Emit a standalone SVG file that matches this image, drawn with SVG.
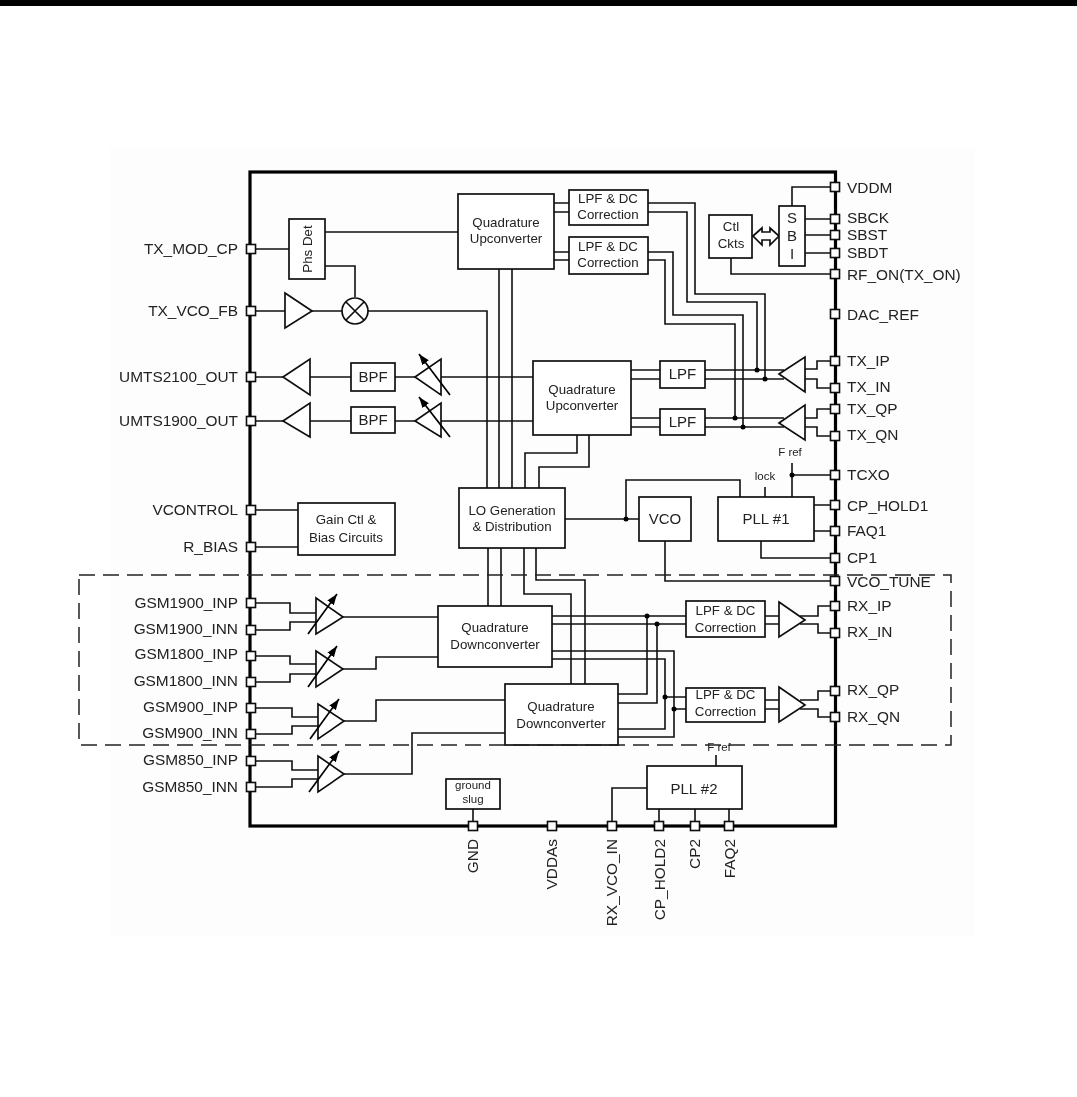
<svg xmlns="http://www.w3.org/2000/svg" width="1077" height="1097" viewBox="0 0 1077 1097">
<style>
text{font-family:"Liberation Sans",Arial,sans-serif;fill:#222;font-size:13.3px}
.c{text-anchor:middle}
.l{font-size:15.4px;text-anchor:end}
.r{font-size:15.4px}
.b{font-size:15.4px;text-anchor:end}
.m{font-size:15px;text-anchor:middle}
.s{font-size:11.5px;text-anchor:middle}
.box,.amp{fill:#fff;stroke:#111;stroke-width:1.7}
.port{fill:#fff;stroke:#111;stroke-width:1.6}
#connectors path{fill:none;stroke:#111;stroke-width:1.6}
.dot{fill:#000;stroke:none}
.var{stroke:#000;stroke-width:1.7;fill:none;marker-end:url(#ah)}
</style>
<defs>
<marker id="ah" markerUnits="userSpaceOnUse" markerWidth="13" markerHeight="10" refX="11" refY="4" orient="auto"><path d="M0 0L11 4L0 8Z" fill="#000"/></marker>
<filter id="soft" x="0" y="0" width="100%" height="100%" filterUnits="userSpaceOnUse"><feGaussianBlur stdDeviation="0.4"/></filter>
<rect id="p" x="-4.5" y="-4.5" width="9" height="9" class="port"/>
</defs>
<rect width="1077" height="1097" fill="#fff"/>
<rect x="110" y="148" width="865" height="789" fill="#fdfdfd"/>
<rect width="1077" height="6" fill="#000"/>
<g filter="url(#soft)">
<rect id="chip" x="250" y="172" width="585.500" height="654" fill="none" stroke="#000" stroke-width="3.2"/>
<g id="connectors">
<path d="M251 249H289M325 232H458M325 266H355V297M251 311H285M312 311H342M368 311H487V488"/>
<path d="M499 269V488M512 269V488M525 488V453H577V435M539 488V467H589V435"/>
<path d="M554 203H569M554 212H569M554 252H569M554 260H569"/>
<path d="M648 203H695V294H765V379M648 212H687V302H757V370M648 252H673V315H743V427M648 260H665V324H735V418"/>
<path d="M251 377H283M310 377H351M395 377H415M441 377H533M251 421H283M310 421H351M395 421H415M441 421H533"/>
<path d="M631 370H660M631 379H660M705 370H784M705 379H784M631 418H660M631 427H660M705 418H784M705 427H784"/>
<path d="M805 369H817V361H835M805 379H817V388H835M805 418H817V409H835M805 427H817V436H835"/>
<path d="M792 206V187H835M805 219H835M805 235H835M805 253H835M731 258V274H835"/>
<path d="M251 510H298M251 547H298"/>
<path d="M565 519H639M626 519V480H740V497M765 487V497M792 463V497M792 475H835M814 505H835M814 531H835M761 541V558H835M665 541V581H835"/>
<path d="M488 548V606M501 548V606M524 548V594H571V684M536 548V580H585V684"/>
<path d="M552 616H686M552 624H686M552 651H674V737H618M552 659H665V729H618M618 694H647V616M618 703H657V624M665 697H686M674 709H686"/>
<path d="M765 616H779M765 624H779M765 700H779M765 709H779M800 616H818V606H835M800 624H818V633H835M800 700H818V691H835M800 709H818V717H835"/>
<path d="M251 603H290V613H316M251 630H290V622H316M251 656H290V664H316M251 682H290V674H316M251 708H292V717H318M251 734H292V726H318M251 761H292V770H318M251 787H292V779H318"/>
<path d="M343 617H438M343 669H376V657H438M344 721H376V700H505M344 774H412V733H505"/>
<path d="M473 809V826M659 809V826M695 809V826M729 809V826M647 788H612V826M716 755V766"/>
<circle class="dot" cx="757" cy="370" r="2.500"/><circle class="dot" cx="765" cy="379" r="2.500"/><circle class="dot" cx="735" cy="418" r="2.500"/><circle class="dot" cx="743" cy="427" r="2.500"/><circle class="dot" cx="626" cy="519" r="2.500"/><circle class="dot" cx="792" cy="475" r="2.500"/><circle class="dot" cx="647" cy="616" r="2.500"/><circle class="dot" cx="657" cy="624" r="2.500"/><circle class="dot" cx="665" cy="697" r="2.500"/><circle class="dot" cx="674" cy="709" r="2.500"/>
</g>
<g id="phs-det"><rect class="box" x="289" y="219" width="36" height="60"/><text class="c" transform="translate(312 249) rotate(-90)">Phs Det</text></g>
<g id="tx-fb-amp"><path class="amp" d="M285 293L312 311L285 328Z"/></g>
<g id="mixer"><circle class="box" cx="355" cy="311" r="13"/><path d="M346 302L364 320M364 302L346 320" stroke="#111" stroke-width="1.700"/></g>
<g id="quad-up-1"><rect class="box" x="458" y="194" width="96" height="75"/><text class="c" x="506" y="227">Quadrature</text><text class="c" x="506" y="243">Upconverter</text></g>
<g id="lpf-dc-1"><rect class="box" x="569" y="190" width="79" height="35"/><text class="c" x="608" y="203">LPF &amp; DC</text><text class="c" x="608" y="219">Correction</text></g>
<g id="lpf-dc-2"><rect class="box" x="569" y="237" width="79" height="37"/><text class="c" x="608" y="251">LPF &amp; DC</text><text class="c" x="608" y="267">Correction</text></g>
<g id="ctl-ckts"><rect class="box" x="709" y="215" width="43" height="43"/><text class="c" x="731" y="231">Ctl</text><text class="c" x="731" y="248">Ckts</text></g>
<g id="bus-arrow"><path class="box" d="M753 236L762 228V232H770V228L779 236L770 245V240H762V245Z"/></g>
<g id="sbi"><rect class="box" x="779" y="206" width="26" height="60"/><text class="m" x="792" y="223">S</text><text class="m" x="792" y="241">B</text><text class="m" x="792" y="259">I</text></g>
<g id="pa-2100"><path class="amp" d="M283 377L310 359V395Z"/></g>
<g id="pa-1900"><path class="amp" d="M283 421L310 403V437Z"/></g>
<g id="bpf-1"><rect class="box" x="351" y="363" width="44" height="28"/><text class="m" x="373" y="382">BPF</text></g>
<g id="bpf-2"><rect class="box" x="351" y="407" width="44" height="26"/><text class="m" x="373" y="425">BPF</text></g>
<g id="vga-1"><path class="amp" d="M415 377L441 359V395Z"/><path class="var" d="M450 395L419 354"/></g>
<g id="vga-2"><path class="amp" d="M415 421L441 403V437Z"/><path class="var" d="M450 437L419 397"/></g>
<g id="quad-up-2"><rect class="box" x="533" y="361" width="98" height="74"/><text class="c" x="582" y="394">Quadrature</text><text class="c" x="582" y="410">Upconverter</text></g>
<g id="lpf-1"><rect class="box" x="660" y="361" width="45" height="27"/><text class="m" x="682.500" y="379">LPF</text></g>
<g id="lpf-2"><rect class="box" x="660" y="409" width="45" height="26"/><text class="m" x="682.500" y="427">LPF</text></g>
<g id="tx-amp-i"><path class="amp" d="M779 374L805 357V392Z" style="fill:none"/></g>
<g id="tx-amp-q"><path class="amp" d="M779 423L805 405V440Z" style="fill:none"/></g>
<g id="gain-ctl"><rect class="box" x="298" y="503" width="97" height="52"/><text class="c" x="346" y="524">Gain Ctl &amp;</text><text class="c" x="346" y="542">Bias Circuits</text></g>
<g id="lo-gen"><rect class="box" x="459" y="488" width="106" height="60"/><text class="c" x="512" y="515">LO Generation</text><text class="c" x="512" y="531">&amp; Distribution</text></g>
<g id="vco"><rect class="box" x="639" y="497" width="52" height="44"/><text class="m" x="665" y="524">VCO</text></g>
<g id="pll-1"><rect class="box" x="718" y="497" width="96" height="44"/><text class="m" x="766" y="524">PLL #1</text></g>
<text class="s" x="790" y="456">F ref</text>
<text class="s" x="765" y="480">lock</text>
<g id="quad-down-1"><rect class="box" x="438" y="606" width="114" height="61"/><text class="c" x="495" y="632">Quadrature</text><text class="c" x="495" y="649">Downconverter</text></g>
<g id="quad-down-2"><rect class="box" x="505" y="684" width="113" height="61"/><text class="c" x="561" y="711">Quadrature</text><text class="c" x="561" y="728">Downconverter</text></g>
<g id="lpf-dc-rx1"><rect class="box" x="686" y="601" width="79" height="36"/><text class="c" x="725.500" y="615">LPF &amp; DC</text><text class="c" x="725.500" y="632">Correction</text></g>
<g id="lpf-dc-rx2"><rect class="box" x="686" y="688" width="79" height="34"/><text class="c" x="725.500" y="699">LPF &amp; DC</text><text class="c" x="725.500" y="716">Correction</text></g>
<g id="rx-amp-i"><path class="amp" d="M779 602L805 620L779 637Z"/></g>
<g id="rx-amp-q"><path class="amp" d="M779 687L805 705L779 722Z"/></g>
<g id="lna-1"><path class="amp" d="M316 598L343 617L316 634Z"/><path class="var" d="M308 634L337 594"/></g>
<g id="lna-2"><path class="amp" d="M316 651L343 669L316 687Z"/><path class="var" d="M308 687L337 646"/></g>
<g id="lna-3"><path class="amp" d="M318 704L344 721L318 739Z"/><path class="var" d="M310 739L339 699"/></g>
<g id="lna-4"><path class="amp" d="M318 756L344 774L318 792Z"/><path class="var" d="M309 792L339 751"/></g>
<g id="ground-slug"><rect class="box" x="446" y="779" width="54" height="30"/><text class="s" x="473" y="789">ground</text><text class="s" x="473" y="803">slug</text></g>
<g id="pll-2"><rect class="box" x="647" y="766" width="95" height="43"/><text class="m" x="694" y="794">PLL #2</text></g>
<text class="s" x="719" y="751">F ref</text>
<rect id="rf-section" x="79" y="575" width="872" height="170" fill="none" stroke="#222" stroke-width="1.500" stroke-dasharray="16 8"/>
<g id="pins-left">
<g id="pin-tx-mod-cp"><use href="#p" x="251" y="249"/><text class="l" x="238" y="254">TX_MOD_CP</text></g>
<g id="pin-tx-vco-fb"><use href="#p" x="251" y="311"/><text class="l" x="238" y="316">TX_VCO_FB</text></g>
<g id="pin-umts2100"><use href="#p" x="251" y="377"/><text class="l" x="238" y="382">UMTS2100_OUT</text></g>
<g id="pin-umts1900"><use href="#p" x="251" y="421"/><text class="l" x="238" y="426">UMTS1900_OUT</text></g>
<g id="pin-vcontrol"><use href="#p" x="251" y="510"/><text class="l" x="238" y="515">VCONTROL</text></g>
<g id="pin-r-bias"><use href="#p" x="251" y="547"/><text class="l" x="238" y="552">R_BIAS</text></g>
<g id="pin-gsm1900-inp"><use href="#p" x="251" y="603"/><text class="l" x="238" y="608">GSM1900_INP</text></g>
<g id="pin-gsm1900-inn"><use href="#p" x="251" y="630"/><text class="l" x="238" y="634">GSM1900_INN</text></g>
<g id="pin-gsm1800-inp"><use href="#p" x="251" y="656"/><text class="l" x="238" y="659">GSM1800_INP</text></g>
<g id="pin-gsm1800-inn"><use href="#p" x="251" y="682"/><text class="l" x="238" y="686">GSM1800_INN</text></g>
<g id="pin-gsm900-inp"><use href="#p" x="251" y="708"/><text class="l" x="238" y="712">GSM900_INP</text></g>
<g id="pin-gsm900-inn"><use href="#p" x="251" y="734"/><text class="l" x="238" y="738">GSM900_INN</text></g>
<g id="pin-gsm850-inp"><use href="#p" x="251" y="761"/><text class="l" x="238" y="765">GSM850_INP</text></g>
<g id="pin-gsm850-inn"><use href="#p" x="251" y="787"/><text class="l" x="238" y="792">GSM850_INN</text></g>
</g>
<g id="pins-right">
<g id="pin-vddm"><use href="#p" x="835" y="187"/><text class="r" x="847" y="193">VDDM</text></g>
<g id="pin-sbck"><use href="#p" x="835" y="219"/><text class="r" x="847" y="223">SBCK</text></g>
<g id="pin-sbst"><use href="#p" x="835" y="235"/><text class="r" x="847" y="240">SBST</text></g>
<g id="pin-sbdt"><use href="#p" x="835" y="253"/><text class="r" x="847" y="258">SBDT</text></g>
<g id="pin-rf-on"><use href="#p" x="835" y="274"/><text class="r" x="847" y="280">RF_ON(TX_ON)</text></g>
<g id="pin-dac-ref"><use href="#p" x="835" y="314"/><text class="r" x="847" y="320">DAC_REF</text></g>
<g id="pin-tx-ip"><use href="#p" x="835" y="361"/><text class="r" x="847" y="366">TX_IP</text></g>
<g id="pin-tx-in"><use href="#p" x="835" y="388"/><text class="r" x="847" y="392">TX_IN</text></g>
<g id="pin-tx-qp"><use href="#p" x="835" y="409"/><text class="r" x="847" y="414">TX_QP</text></g>
<g id="pin-tx-qn"><use href="#p" x="835" y="436"/><text class="r" x="847" y="440">TX_QN</text></g>
<g id="pin-tcxo"><use href="#p" x="835" y="475"/><text class="r" x="847" y="480">TCXO</text></g>
<g id="pin-cp-hold1"><use href="#p" x="835" y="505"/><text class="r" x="847" y="511">CP_HOLD1</text></g>
<g id="pin-faq1"><use href="#p" x="835" y="531"/><text class="r" x="847" y="536">FAQ1</text></g>
<g id="pin-cp1"><use href="#p" x="835" y="558"/><text class="r" x="847" y="563">CP1</text></g>
<g id="pin-vco-tune"><use href="#p" x="835" y="581"/><text class="r" x="847" y="587">VCO_TUNE</text></g>
<g id="pin-rx-ip"><use href="#p" x="835" y="606"/><text class="r" x="847" y="611">RX_IP</text></g>
<g id="pin-rx-in"><use href="#p" x="835" y="633"/><text class="r" x="847" y="637">RX_IN</text></g>
<g id="pin-rx-qp"><use href="#p" x="835" y="691"/><text class="r" x="847" y="695">RX_QP</text></g>
<g id="pin-rx-qn"><use href="#p" x="835" y="717"/><text class="r" x="847" y="722">RX_QN</text></g>
</g>
<g id="pins-bottom">
<g id="pin-gnd"><use href="#p" x="473" y="826"/><text class="b" transform="translate(478 839) rotate(-90)">GND</text></g>
<g id="pin-vddas"><use href="#p" x="552" y="826"/><text class="b" transform="translate(557 839) rotate(-90)">VDDAs</text></g>
<g id="pin-rx-vco-in"><use href="#p" x="612" y="826"/><text class="b" transform="translate(617 839) rotate(-90)">RX_VCO_IN</text></g>
<g id="pin-cp-hold2"><use href="#p" x="659" y="826"/><text class="b" transform="translate(665 839) rotate(-90)">CP_HOLD2</text></g>
<g id="pin-cp2"><use href="#p" x="695" y="826"/><text class="b" transform="translate(700 839) rotate(-90)">CP2</text></g>
<g id="pin-faq2"><use href="#p" x="729" y="826"/><text class="b" transform="translate(735 839) rotate(-90)">FAQ2</text></g>
</g>
</g>
</svg>
